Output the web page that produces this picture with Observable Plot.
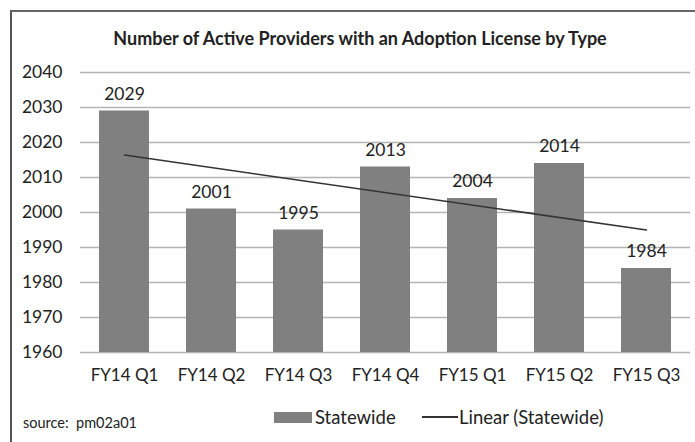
<!DOCTYPE html>
<html>
<head>
<meta charset="utf-8">
<script src="https://cdn.jsdelivr.net/npm/d3@7"></script>
<script src="https://cdn.jsdelivr.net/npm/@observablehq/plot@0.6"></script>
<style>
  html, body { margin: 0; padding: 0; background: #fff; }
  body { font-family: Lato, "Open Sans", sans-serif; color: #222; }
  #wrap { position: relative; width: 695px; height: 442px; overflow: hidden; }
  #frame { position: absolute; left: 10px; top: 10px; width: 690px; height: 440px;
           border-left: 2px solid #555; border-top: 2px solid #666; }
  #title { position: absolute; left: 60px; width: 600px; top: 28px; text-align: center;
           font-weight: bold; font-size: 18px; line-height: 20px; }
  #chart { position: absolute; left: 0; top: 55px; }
  .lg { position: absolute; font-size: 18.5px; line-height: 20px; top: 407px; white-space: nowrap; }
  #sw1 { position: absolute; left: 274px; top: 412px; width: 38px; height: 11px; background: #808080; }
  #sw2 { position: absolute; left: 422px; top: 416px; width: 36px; height: 1.5px; background: #333; }
  #source { position: absolute; left: 23px; top: 414px; font-size: 14.5px; line-height: 18px; white-space: pre; }
</style>
</head>
<body>
<div id="wrap">
  <div id="frame"></div>
  <div id="title"></div>
  <div id="chart"></div>
  <div id="sw1"></div><div class="lg" id="lg1" style="left:315px"></div>
  <div id="sw2"></div><div class="lg" id="lg2" style="left:459px"></div>
  <div id="source"></div>
</div>
<script>
const titleText = "Number of Active Providers with an Adoption License by Type";
const categories = ["FY14 Q1", "FY14 Q2", "FY14 Q3", "FY14 Q4", "FY15 Q1", "FY15 Q2", "FY15 Q3"];
const statewide = [2029, 2001, 1995, 2013, 2004, 2014, 1984];
const yTicks = [1960, 1970, 1980, 1990, 2000, 2010, 2020, 2030, 2040];
const trendCategories = ["FY14 Q1", "FY15 Q3"];
const trendValues = [2016.4, 1995.0];
const seriesName = "Statewide";
const trendName = "Linear (Statewide)";
const sourceText = "source:  pm02a01";

document.getElementById("title").textContent = titleText;
document.getElementById("lg1").textContent = seriesName;
document.getElementById("lg2").textContent = trendName;
document.getElementById("source").textContent = sourceText;

const bars = categories.map((c, i) => ({cat: c, value: statewide[i]}));
const trend = trendCategories.map((c, i) => ({cat: c, value: trendValues[i]}));
const yMin = yTicks[0];

const chart = Plot.plot({
  width: 695,
  height: 345,
  marginTop: 17,
  marginBottom: 48,
  marginLeft: 80,
  marginRight: 5,
  style: {fontFamily: "Lato, 'Open Sans', sans-serif", fontSize: "17px", color: "#222", background: "transparent"},
  x: {domain: categories, paddingInner: 0.43, paddingOuter: 0.215, label: null},
  y: {domain: [yTicks[0], yTicks[yTicks.length - 1]], label: null},
  marks: [
    Plot.ruleY(yTicks, {stroke: "#b4b4b4", strokeWidth: 1.6}),
    Plot.barY(bars, {x: "cat", y1: () => yMin, y2: "value", fill: "#808080"}),
    Plot.line(trend, {x: "cat", y: "value", stroke: "#333", strokeWidth: 1.5}),
    Plot.text(bars, {x: "cat", y: "value", text: d => String(d.value), dy: -17, fill: "#222", fontSize: 17.5}),
    Plot.axisY(yTicks, {tickSize: 0, tickPadding: 18, fontSize: 17.5, fill: "#222", tickFormat: d => String(d)}),
    Plot.axisX({tickSize: 0, tickPadding: 16, fontSize: 17, fill: "#222"})
  ]
});
document.getElementById("chart").appendChild(chart);
</script>
</body>
</html>
